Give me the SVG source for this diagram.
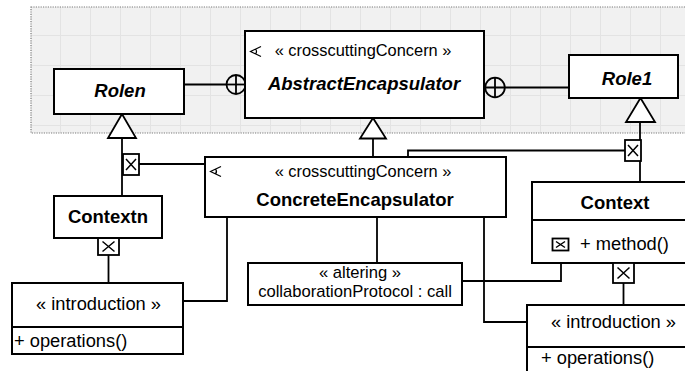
<svg xmlns="http://www.w3.org/2000/svg" width="685" height="371" viewBox="0 0 685 371">
<style>
  text { font-family: "Liberation Sans", Arial, sans-serif; fill: #000; }
  .box { fill: #fff; stroke: #000; stroke-width: 2; }
  .ln { fill: none; stroke: #000; stroke-width: 1.8; }
  .tri { fill: #fff; stroke: #000; stroke-width: 1.8; stroke-linejoin: miter; }
  .xb { fill: #fff; stroke: #000; stroke-width: 1.8; }
  .xl { fill: none; stroke: #000; stroke-width: 1.5; }
  .name { font-weight: bold; font-size: 18.5px; text-anchor: middle; }
  .abs { font-weight: bold; font-style: italic; font-size: 18.5px; text-anchor: middle; }
  .st { font-size: 16.4px; text-anchor: middle; }
  .op { font-size: 18.3px; }
  .icon { fill: none; stroke: #000; stroke-width: 1.2; }
</style>
<defs>
  <pattern id="grid" patternUnits="userSpaceOnUse" x="0" y="5" width="30" height="30">
    <rect width="30" height="30" fill="#f1f1f1"/>
    <path d="M0 0.5H30M0.5 0V30" stroke="#e3e3e3" stroke-width="1" fill="none"/>
  </pattern>
</defs>

<g id="package">
  <rect x="31" y="7" width="670" height="126" fill="url(#grid)" stroke="#7a7a7a" stroke-width="1.2" stroke-dasharray="1.2 1.2"/>
</g>

<g id="connectors">
  <!-- Rolen to AbstractEncapsulator (nesting) -->
  <line class="ln" x1="184" y1="84.5" x2="226.5" y2="84.5"/>
  <circle class="ln" cx="236" cy="84.5" r="9.5" fill="#fff"/>
  <line class="ln" x1="226.5" y1="84.5" x2="245.5" y2="84.5"/>
  <line class="ln" x1="236" y1="75" x2="236" y2="94"/>
  <!-- AbstractEncapsulator to Role1 (nesting) -->
  <circle class="ln" cx="495" cy="87.5" r="9.8" fill="#fff"/>
  <line class="ln" x1="485" y1="87.5" x2="569" y2="87.5"/>
  <line class="ln" x1="495" y1="77.7" x2="495" y2="97.3"/>

  <!-- Contextn generalization to Rolen -->
  <line class="ln" x1="122" y1="138" x2="122" y2="196"/>
  <polygon class="tri" points="122,114 108,138 136,138"/>
  <!-- ConcreteEncapsulator generalization to AbstractEncapsulator -->
  <line class="ln" x1="373" y1="138" x2="373" y2="157"/>
  <polygon class="tri" points="373,118 360,138.5 386,138.5"/>
  <!-- Context generalization to Role1 -->
  <line class="ln" x1="640" y1="122" x2="640" y2="182"/>
  <polygon class="tri" points="640.5,98 626,122 655,122"/>

  <!-- ConcreteEncapsulator to Rolen link X -->
  <line class="ln" x1="205" y1="164" x2="139" y2="164"/>
  <rect class="xb" x="123" y="154" width="16" height="21"/>
  <path class="xl" d="M126 159L136 170M136 159L126 170"/>
  <!-- ConcreteEncapsulator to Role1 link X -->
  <polyline class="ln" points="408,157 408,150.5 625,150.5"/>
  <rect class="xb" x="625" y="140" width="16" height="21"/>
  <path class="xl" d="M628 145L638 156M638 145L628 156"/>

  <!-- Contextn to left introduction -->
  <line class="ln" x1="108.5" y1="255" x2="108.5" y2="283"/>
  <rect class="xb" x="98" y="238" width="21" height="17"/>
  <path class="xl" d="M102.5 241.5L114.5 251.5M114.5 241.5L102.5 251.5"/>

  <!-- ConcreteEncapsulator bottom connectors -->
  <polyline class="ln" points="227,217 227,301 183,301"/>
  <line class="ln" x1="377" y1="217" x2="377" y2="263"/>
  <polyline class="ln" points="484,217 484,322 527,322"/>
  <!-- altering to Context method -->
  <polyline class="ln" points="462,281 561,281 561,250"/>

  <!-- Context to right introduction -->
  <line class="ln" x1="623.5" y1="283" x2="623.5" y2="305"/>
</g>

<g id="Rolen">
  <rect class="box" x="54" y="69" width="130" height="45"/>
  <text class="abs" x="120" y="97">Rolen</text>
</g>

<g id="AbstractEncapsulator">
  <rect class="box" x="245" y="31" width="239" height="87"/>
  <path class="icon" d="M261 46.5L250.5 51.5L261 56.5M255.5 49Q257.5 51.5 255.5 54"/>
  <text class="st" x="363" y="56">« crosscuttingConcern »</text>
  <text class="abs" x="364" y="90">AbstractEncapsulator</text>
</g>

<g id="Role1">
  <rect class="box" x="569" y="55" width="109" height="43"/>
  <text class="abs" x="627" y="85">Role1</text>
</g>

<g id="ConcreteEncapsulator">
  <rect class="box" x="205" y="157" width="301" height="60"/>
  <path class="icon" d="M221 166.5L210.5 171.5L221 176.5M215.5 169Q217.5 171.5 215.5 174"/>
  <text class="st" x="363" y="176.5">« crosscuttingConcern »</text>
  <text class="name" x="355" y="206">ConcreteEncapsulator</text>
</g>

<g id="Contextn">
  <rect class="box" x="54" y="196" width="108" height="42"/>
  <text class="name" x="108" y="223">Contextn</text>
</g>

<g id="Context">
  <rect class="box" x="532" y="182" width="166" height="81"/>
  <line class="ln" x1="532" y1="220" x2="698" y2="220"/>
  <text class="name" x="615" y="208.5">Context</text>
  <rect x="552.5" y="238.5" width="16" height="12" fill="#fff" stroke="#000" stroke-width="1.8"/>
  <path class="xl" d="M556 241.5L565 247.5M565 241.5L556 247.5"/>
  <text class="op" x="580" y="249.5">+ method()</text>
  <rect class="xb" x="613" y="263" width="21" height="20"/>
  <path class="xl" d="M617.5 267.5L629.5 278.5M629.5 267.5L617.5 278.5"/>
</g>

<g id="altering">
  <rect class="box" x="248" y="263" width="214" height="42"/>
  <text class="st" x="360" y="278" style="font-size:16.6px">« altering »</text>
  <text class="st" x="355" y="297" style="font-size:16.6px">collaborationProtocol : call</text>
</g>

<g id="introductionLeft">
  <rect class="box" x="12" y="283" width="171" height="71"/>
  <line class="ln" x1="12" y1="327" x2="183" y2="327"/>
  <text class="op" x="98.5" y="310" text-anchor="middle">« introduction »</text>
  <text class="op" x="14" y="346.5">+ operations()</text>
</g>

<g id="introductionRight">
  <rect class="box" x="527" y="305" width="171" height="75"/>
  <line class="ln" x1="527" y1="347" x2="698" y2="347"/>
  <text class="op" x="613.5" y="328" text-anchor="middle">« introduction »</text>
  <text class="op" x="541" y="364">+ operations()</text>
</g>
</svg>
